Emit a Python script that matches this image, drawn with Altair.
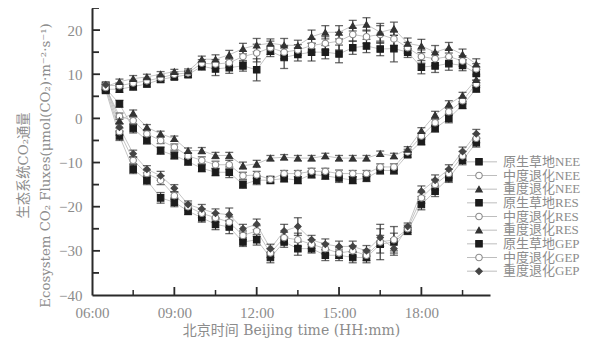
import altair as alt
import pandas as pd

# ---- data (half-hourly, hours of day) ----
times = [6.5, 7.0, 7.5, 8.0, 8.5, 9.0, 9.5, 10.0, 10.5, 11.0, 11.5, 12.0, 12.5, 13.0,
         13.5, 14.0, 14.5, 15.0, 15.5, 16.0, 16.5, 17.0, 17.5, 18.0, 18.5, 19.0, 19.5, 20.0]

nee_native   = [6.8, 3.3, -2.3, -5.0, -7.3, -8.4, -9.8, -11.3, -12.2, -12.2, -15.0, -14.0, -14.0, -13.6,
                -14.0, -12.7, -13.0, -13.5, -14.0, -13.5, -11.8, -11.8, -8.2, -5.2, -2.3, 0.0, 3.0, 6.7]
nee_moderate = [7.0, 0.5, -0.5, -3.5, -5.0, -6.5, -8.5, -9.5, -10.5, -10.5, -13.0, -12.8, -13.8, -12.5,
                -12.5, -12.0, -12.0, -12.5, -12.5, -12.5, -11.0, -11.0, -7.6, -4.0, -1.0, 1.5, 4.0, 7.8]
nee_severe   = [7.3, -0.5, 1.2, -2.0, -3.5, -4.6, -7.3, -7.3, -8.4, -8.4, -10.7, -10.3, -9.0, -8.8,
                -9.0, -9.0, -8.5, -9.0, -9.0, -9.0, -8.0, -8.5, -7.0, -2.8, 0.8, 3.2, 5.2, 8.8]

res_native   = [6.6, 6.6, 7.2, 7.8, 8.8, 9.4, 9.9, 11.8, 11.2, 11.5, 11.9, 11.0, 15.2, 13.8,
                14.5, 15.0, 15.0, 14.6, 16.0, 16.4, 15.7, 15.8, 15.0, 11.6, 11.9, 12.4, 12.0, 10.2]
res_moderate = [7.5, 7.4, 8.0, 8.5, 9.2, 10.0, 10.3, 12.5, 12.3, 12.6, 14.0, 14.8, 16.0, 15.0,
                15.5, 16.5, 17.0, 17.5, 19.0, 18.5, 19.0, 18.0, 16.0, 14.0, 13.5, 14.0, 13.0, 11.2]
res_severe   = [7.2, 8.3, 9.0, 9.4, 10.0, 10.6, 10.7, 13.4, 13.4, 14.4, 15.8, 16.6, 17.0, 16.6,
                16.5, 18.5, 19.5, 19.5, 21.0, 21.3, 19.5, 20.3, 17.0, 16.4, 15.0, 16.0, 14.5, 12.3]

gep_native   = [6.4, -4.0, -11.5, -14.0, -18.0, -19.0, -21.0, -22.5, -24.0, -24.6, -28.0, -27.5, -31.5, -28.0,
                -29.5, -29.5, -31.0, -31.0, -31.5, -31.5, -28.5, -28.0, -25.5, -19.5, -16.5, -13.5, -9.5, -5.5]
gep_moderate = [7.0, -3.0, -9.5, -12.5, -14.0, -17.5, -20.0, -21.5, -22.5, -23.5, -26.5, -25.5, -30.5, -27.0,
                -27.5, -28.5, -29.5, -30.5, -30.0, -31.0, -28.0, -27.5, -25.0, -18.0, -15.0, -12.5, -8.5, -4.5]
gep_severe   = [7.6, -2.0, -8.0, -11.5, -13.0, -15.8, -19.5, -20.5, -21.5, -21.8, -25.0, -24.0, -29.5, -25.5,
                -24.5, -27.5, -28.5, -29.0, -29.0, -30.0, -27.0, -29.5, -24.5, -16.5, -14.0, -11.5, -7.5, -3.5]

# error bar half-lengths
nee_native_err   = [0.8, 0.8, 1.0, 0.8, 0.8, 0.8, 0.8, 0.8, 0.8, 1.2, 0.8, 1.0, 0.8, 0.8,
                    0.8, 0.8, 0.8, 1.0, 0.8, 0.8, 0.8, 0.8, 0.6, 0.8, 0.8, 1.0, 0.8, 0.8]
nee_moderate_err = [0.7, 0.7, 0.8, 0.7, 0.7, 0.7, 0.7, 0.8, 0.8, 1.0, 0.8, 0.8, 0.7, 0.7,
                    0.7, 0.7, 0.7, 0.8, 0.7, 0.7, 0.7, 0.7, 0.6, 0.7, 0.8, 0.8, 0.7, 0.8]
nee_severe_err   = [0.7, 0.8, 0.7, 0.6, 0.6, 0.6, 0.6, 0.7, 0.7, 0.7, 0.8, 0.8, 0.6, 0.6,
                    0.6, 0.6, 0.6, 0.6, 0.6, 0.6, 0.6, 0.6, 0.6, 0.7, 0.8, 0.8, 0.7, 0.8]
res_native_err   = [0.8, 0.7, 0.8, 0.7, 0.6, 0.6, 0.6, 0.9, 1.5, 1.3, 1.2, 2.5, 1.2, 2.5,
                    1.5, 2.0, 1.5, 2.0, 1.5, 1.5, 1.5, 3.0, 1.2, 1.5, 1.5, 1.5, 1.2, 1.5]
res_moderate_err = [0.6, 0.6, 0.6, 0.6, 0.6, 0.5, 0.5, 0.8, 1.0, 1.0, 1.2, 2.0, 1.5, 1.5,
                    1.2, 1.5, 1.5, 2.0, 1.5, 1.5, 2.0, 1.5, 1.2, 1.5, 1.5, 1.5, 1.2, 1.2]
res_severe_err   = [0.6, 0.6, 0.7, 0.6, 0.6, 0.5, 0.5, 0.7, 1.0, 1.0, 1.2, 1.5, 1.0, 1.5,
                    1.2, 1.5, 1.5, 1.5, 1.2, 1.5, 2.0, 1.5, 1.2, 1.5, 1.5, 1.2, 1.2, 1.2]
gep_native_err   = [0.8, 1.0, 1.0, 1.0, 1.2, 1.0, 0.8, 1.0, 1.2, 1.5, 1.0, 1.2, 1.2, 1.2,
                    1.5, 1.0, 1.2, 1.2, 1.2, 1.2, 2.0, 2.0, 0.8, 1.2, 1.2, 1.0, 1.0, 1.0]
gep_moderate_err = [0.7, 0.8, 0.8, 0.8, 1.0, 0.8, 0.8, 1.0, 1.0, 1.2, 1.0, 1.2, 1.0, 1.2,
                    1.5, 1.0, 1.2, 1.2, 1.2, 1.2, 4.0, 3.0, 0.8, 1.2, 1.2, 1.0, 1.0, 1.0]
gep_severe_err   = [0.7, 0.8, 0.8, 0.8, 1.0, 0.8, 0.8, 1.0, 1.0, 1.5, 1.0, 1.2, 1.0, 1.5,
                    2.0, 1.0, 1.2, 1.2, 1.2, 1.2, 2.0, 1.5, 0.8, 1.2, 1.2, 1.0, 1.0, 1.0]

labels = ["原生草地NEE", "中度退化NEE", "重度退化NEE",
          "原生草地RES", "中度退化RES", "重度退化RES",
          "原生草地GEP", "中度退化GEP", "重度退化GEP"]
series_values = [nee_native, nee_moderate, nee_severe,
                 res_native, res_moderate, res_severe,
                 gep_native, gep_moderate, gep_severe]
series_errors = [nee_native_err, nee_moderate_err, nee_severe_err,
                 res_native_err, res_moderate_err, res_severe_err,
                 gep_native_err, gep_moderate_err, gep_severe_err]

x_major = [9, 12, 15, 18]
x_minor = [7.5, 10.5, 13.5, 16.5, 19.5]
y_major = [-30, -20, -10, 0, 10, 20]
y_minor = [-35, -25, -15, -5, 5, 15, 25]

# ---- long table ----
rows = []
for lab, vals, errs in zip(labels, series_values, series_errors):
    for t, v, e in zip(times, vals, errs):
        rows.append({"time": t, "series": lab, "value": v, "lo": v - e, "hi": v + e})
df = pd.DataFrame(rows)
legend_df = pd.DataFrame({"label": labels})

# ---- styles ----
SERIF = "Liberation Serif, Noto Sans CJK SC"
WIDE_SERIF = "DejaVu Serif, Noto Sans CJK SC"
GREY = "#8c8c8c"
W, H = 398, 287
shape_range = ["square", "circle", "triangle-up", "square", "circle", "triangle-up",
               "square", "circle", "diamond"]
fill_range = ["#1c1c1c", "#ffffff", "#333333", "#1c1c1c", "#ffffff", "#333333",
              "#1c1c1c", "#ffffff", "#444444"]
stroke_range = ["#1c1c1c", "#8a8a8a", "#333333", "#1c1c1c", "#8a8a8a", "#333333",
                "#1c1c1c", "#8a8a8a", "#444444"]

xscale = alt.Scale(domain=[6, 20.5], nice=False, zero=False)
yscale = alt.Scale(domain=[-40, 25], nice=False, zero=False)
xaxis = alt.Axis(values=[6, 9, 12, 15, 18],
                 labelExpr="(datum.value < 10 ? '0' : '') + datum.value + ':00'",
                 ticks=False, grid=False, domainColor="#2a2a2a", domainWidth=2,
                 labelFont=SERIF, labelFontSize=15, labelColor=GREY, labelPadding=10,
                 labelFlush=False,
                 title="北京时间 Beijing time (HH:mm)", titleFont=WIDE_SERIF, titleFontSize=14,
                 titleFontWeight="normal", titleColor=GREY, titlePadding=3)
yaxis = alt.Axis(values=[-40, -30, -20, -10, 0, 10, 20], ticks=False, grid=False,
                 domainColor="#2a2a2a", domainWidth=2,
                 labelFont=SERIF, labelFontSize=15, labelColor=GREY, labelPadding=10,
                 labelFlush=False,
                 title=["生态系统CO₂通量", "Ecosystem CO₂ Fluxes(μmol(CO₂)·m⁻²·s⁻¹)"],
                 titleFont=WIDE_SERIF, titleFontSize=13.3, titleFontWeight="normal",
                 titleColor=GREY, titlePadding=6, titleLineHeight=22, titleY=157)


def X(field):
    return alt.X(field, type="quantitative", scale=xscale, axis=xaxis)


def Y(field):
    return alt.Y(field, type="quantitative", scale=yscale, axis=yaxis)


shape_enc = alt.Shape("series:N", scale=alt.Scale(domain=labels, range=shape_range), legend=None)
fill_enc = alt.Fill("series:N", scale=alt.Scale(domain=labels, range=fill_range), legend=None)
stroke_enc = alt.Stroke("series:N", scale=alt.Scale(domain=labels, range=stroke_range), legend=None)

base = alt.Chart(df)
lines = base.mark_line(strokeWidth=0.8, color="#b5b5b5").encode(
    x=X("time"), y=Y("value"), detail="series:N")
errs = base.mark_rule(strokeWidth=1.1, color="#2e2e2e").encode(
    x=X("time"), y=Y("lo"), y2="hi")
cap_lo = base.mark_tick(orient="horizontal", size=8, thickness=1.3, color="#2e2e2e").encode(
    x=X("time"), y=Y("lo"))
cap_hi = base.mark_tick(orient="horizontal", size=8, thickness=1.3, color="#2e2e2e").encode(
    x=X("time"), y=Y("hi"))
points = base.mark_point(size=42, strokeWidth=1.1, opacity=1).encode(
    x=X("time"), y=Y("value"), shape=shape_enc, fill=fill_enc, stroke=stroke_enc)

xt_major = alt.Chart(pd.DataFrame({"t": x_major})).mark_rule(color="#2a2a2a", strokeWidth=1.8).encode(
    x=X("t"), y=alt.value(H), y2=alt.value(H - 8))
xt_minor = alt.Chart(pd.DataFrame({"t": x_minor})).mark_rule(color="#2a2a2a", strokeWidth=1.5).encode(
    x=X("t"), y=alt.value(H), y2=alt.value(H - 5))
yt_major = alt.Chart(pd.DataFrame({"v": y_major})).mark_rule(color="#2a2a2a", strokeWidth=1.8).encode(
    y=Y("v"), x=alt.value(0), x2=alt.value(8))
yt_minor = alt.Chart(pd.DataFrame({"v": y_minor})).mark_rule(color="#2a2a2a", strokeWidth=1.8).encode(
    y=Y("v"), x=alt.value(0), x2=alt.value(7))

main = alt.layer(lines, errs, cap_lo, cap_hi, points, xt_major, xt_minor, yt_major, yt_minor)

# ---- legend drawn inside the plot ----
ly = alt.Y("label:N", scale=alt.Scale(domain=labels, range=[147, 270]), axis=None)
lbase = alt.Chart(legend_df)
leg_line = lbase.mark_rule(color="#b5b5b5", strokeWidth=0.9).encode(
    y=ly, x=alt.value(375), x2=alt.value(405))
leg_pts = lbase.mark_point(size=42, strokeWidth=1.1, opacity=1).encode(
    y=ly, x=alt.value(387),
    shape=alt.Shape("label:N", scale=alt.Scale(domain=labels, range=shape_range), legend=None),
    fill=alt.Fill("label:N", scale=alt.Scale(domain=labels, range=fill_range), legend=None),
    stroke=alt.Stroke("label:N", scale=alt.Scale(domain=labels, range=stroke_range), legend=None))
leg_txt = lbase.mark_text(align="left", baseline="middle", font=SERIF, fontSize=13,
                          color=GREY).encode(y=ly, x=alt.value(411), text="label:N")
legend = alt.layer(leg_line, leg_pts, leg_txt)

chart = alt.layer(main, legend).resolve_scale(y="independent").properties(
    width=W, height=H,
    autosize=alt.AutoSizeParams(type="none"),
    padding={"left": 84, "top": 0, "right": 100, "bottom": 44},
    background="white",
).configure_view(stroke=None)

chart.save("out.html", embed_options={"renderer": "svg", "actions": False})
